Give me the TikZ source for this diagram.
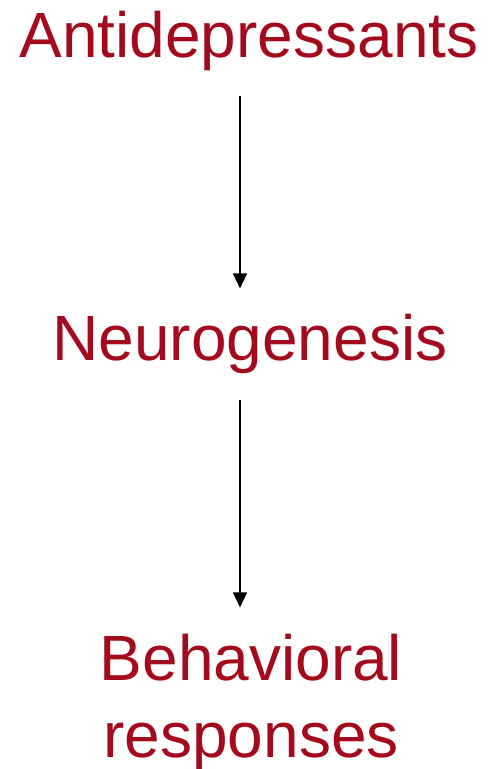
\documentclass[tikz,border=0pt]{standalone}
\usepackage{fontspec}
\setmainfont{Liberation Sans}
\usepackage{xcolor}
\usetikzlibrary{arrows.meta}
\definecolor{darkred}{RGB}{163,10,28}

\begin{document}
\begin{tikzpicture}[
  x=1pt,y=-1pt,
  term/.style={text=darkred,inner sep=0pt,anchor=base,align=center,
    font=\fontsize{64}{77}\selectfont},
  >={Triangle[length=15pt,width=14pt]},
  fd/.style={->,line width=1.4pt,black}
]
\useasboundingbox (0,0) rectangle (491,769);
% the three stages
\node[term] (AD) at (249,57)  {Antidepressants};
\node[term] (NG) at (250,360) {Neurogenesis};
\node[term] (BR) at (251,757) {Behavioral\\responses};
% arrows, a little left of centre
\draw[fd,shorten <=26pt,shorten >=25pt] ([xshift=-9pt]AD.south) -- ([xshift=-10pt]NG.north);
\draw[fd,shorten <=27pt,shorten >=26pt] ([xshift=-10pt]NG.south) -- ([xshift=-11pt]BR.north);
\end{tikzpicture}
\end{document}
